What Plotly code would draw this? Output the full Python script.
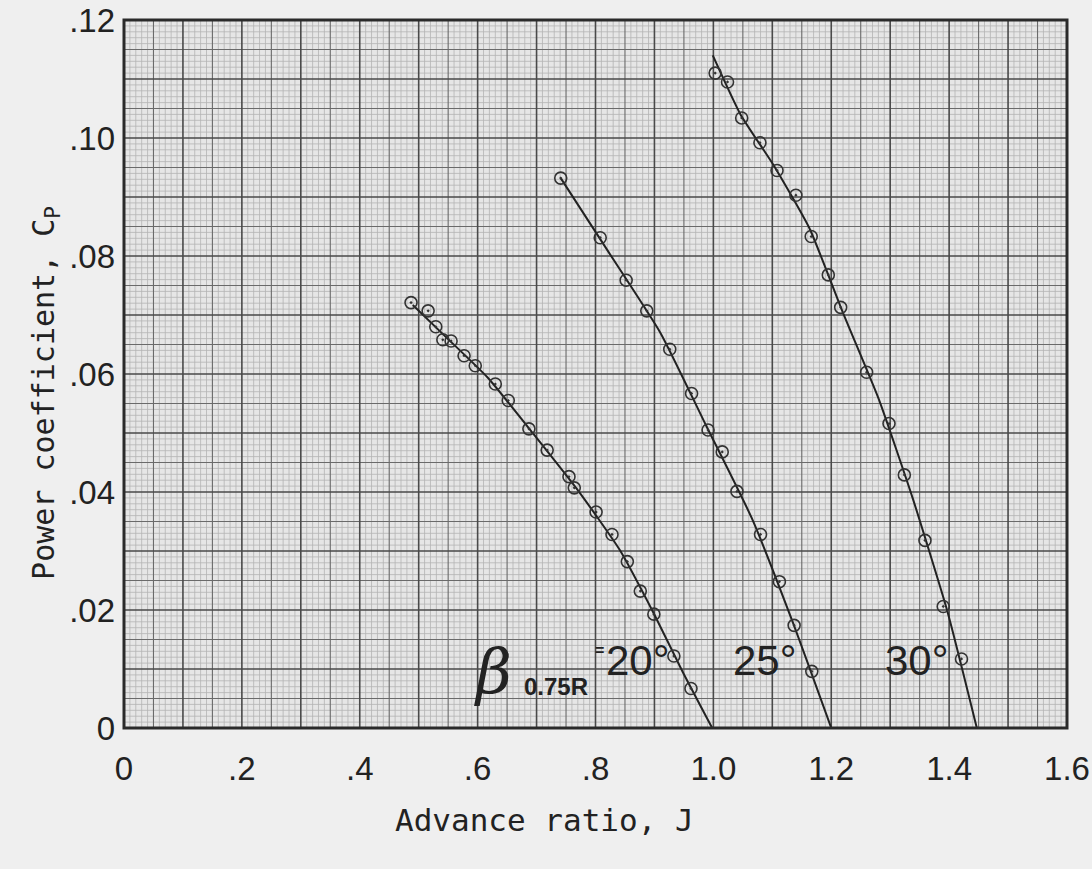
import plotly.graph_objects as go

# ---- data (advance ratio J, power coefficient Cp) ----
# beta_0.75R = 20 deg : test points
J20 = [0.487, 0.516, 0.529, 0.541, 0.555, 0.577, 0.596, 0.630, 0.652, 0.687, 0.718,
       0.755, 0.764, 0.801, 0.828, 0.854, 0.876, 0.899, 0.933, 0.962]
CP20 = [0.0721, 0.0707, 0.0680, 0.0658, 0.0656, 0.0631, 0.0614, 0.0583, 0.0555, 0.0507, 0.0471,
        0.0426, 0.0407, 0.0366, 0.0328, 0.0282, 0.0232, 0.0193, 0.0122, 0.0067]
# faired curve
J20_FAIR = [0.490, 0.549, 0.617, 0.695, 0.773, 0.841, 0.900, 0.948, 0.998]
CP20_FAIR = [0.0717, 0.0660, 0.0594, 0.0498, 0.0399, 0.0302, 0.0192, 0.0095, 0.0]

# beta = 25 deg
J25 = [0.741, 0.808, 0.852, 0.887, 0.926, 0.963, 0.991, 1.015, 1.040, 1.080, 1.112, 1.137, 1.167]
CP25 = [0.0932, 0.0831, 0.0759, 0.0707, 0.0642, 0.0567, 0.0505, 0.0468, 0.0401, 0.0328, 0.0248, 0.0174, 0.0096]
J25_FAIR = [0.741, 0.822, 0.910, 0.987, 1.065, 1.134, 1.200]
CP25_FAIR = [0.0932, 0.0807, 0.0670, 0.0514, 0.0356, 0.0181, 0.0]

# beta = 30 deg
J30 = [1.003, 1.024, 1.048, 1.079, 1.108, 1.140, 1.166, 1.195, 1.216, 1.260, 1.298, 1.324, 1.359, 1.390, 1.421]
CP30 = [0.1110, 0.1095, 0.1034, 0.0992, 0.0945, 0.0903, 0.0833, 0.0768, 0.0713, 0.0603, 0.0516, 0.0429,
        0.0318, 0.0206, 0.0117]
J30_FAIR = [0.999, 1.046, 1.104, 1.163, 1.221, 1.280, 1.338, 1.397, 1.447]
CP30_FAIR = [0.1140, 0.1040, 0.0951, 0.0847, 0.0701, 0.0559, 0.0390, 0.0198, 0.0]

X_TICKS = [0, 0.2, 0.4, 0.6, 0.8, 1.0, 1.2, 1.4, 1.6]
X_TICK_TEXT = ["0", ".2", ".4", ".6", ".8", "1.0", "1.2", "1.4", "1.6"]
Y_TICKS = [0, 0.02, 0.04, 0.06, 0.08, 0.10, 0.12]
Y_TICK_TEXT = ["0", ".02", ".04", ".06", ".08", ".10", ".12"]

INK = "#222222"
FONT = "Liberation Sans"
TITLE_FONT = "DejaVu Sans Mono"

fig = go.Figure()

series = [
    (J20_FAIR, CP20_FAIR, J20, CP20),
    (J25_FAIR, CP25_FAIR, J25, CP25),
    (J30_FAIR, CP30_FAIR, J30, CP30),
]
for jf, cf, jp, cp in series:
    fig.add_trace(go.Scatter(x=jf, y=cf, mode="lines",
                             line=dict(color=INK, width=2, shape="spline", smoothing=0.5),
                             hoverinfo="skip", showlegend=False))
    fig.add_trace(go.Scatter(x=jp, y=cp, mode="markers",
                             marker=dict(symbol="circle-open-dot", size=12, color="#333333",
                                         line=dict(width=1.6, color="#333333")),
                             showlegend=False))

# ---- graph-paper grid (32 x 24 cells, 5 subdivisions) ----
def grid_path(nx_div, ny_div, keep):
    parts = []
    for i in range(1, nx_div):
        if keep(i, nx_div):
            x = i / nx_div
            parts.append(f"M {x:.5f} 0 L {x:.5f} 1")
    for j in range(1, ny_div):
        if keep(j, ny_div):
            y = j / ny_div
            parts.append(f"M 0 {y:.5f} L 1 {y:.5f}")
    return " ".join(parts)

fine = grid_path(160, 120, lambda i, n: i % 5 != 0)
medium = grid_path(32, 24, lambda i, n: i % 2 == 1)
bold = grid_path(32, 24, lambda i, n: i % 2 == 0)

shapes = [
    dict(type="path", path=fine, xref="paper", yref="paper", layer="below",
         line=dict(color="#b4b4b4", width=0.8)),
    dict(type="path", path=medium, xref="paper", yref="paper", layer="below",
         line=dict(color="#6a6a6a", width=1.1)),
    dict(type="path", path=bold, xref="paper", yref="paper", layer="below",
         line=dict(color="#4a4a4a", width=1.6)),
    dict(type="rect", x0=0, x1=1, y0=0, y1=1, xref="paper", yref="paper", layer="above",
         line=dict(color="#2a2a2a", width=3)),
]

annotations = [
    dict(text="Advance ratio, J", xref="paper", yref="paper",
         x=0.4454, y=-0.130, xanchor="center", yanchor="middle", showarrow=False,
         font=dict(family=TITLE_FONT, size=31, color=INK)),
    dict(text="Power coefficient, C<sub>P</sub>", xref="paper", yref="paper",
         x=-0.084, y=0.473, xanchor="center", yanchor="middle", textangle=-90, showarrow=False,
         font=dict(family=TITLE_FONT, size=30, color=INK)),
    dict(text="<i>β</i>", x=0.626, y=0.0095, xref="x", yref="y", showarrow=False,
         font=dict(family="DejaVu Serif", size=62, color=INK)),
    dict(text="<b>0.75R</b>", x=0.733, y=0.0071, xref="x", yref="y", showarrow=False,
         font=dict(family=FONT, size=24, color=INK)),
    dict(text="<b>=</b>", x=0.806, y=0.0132, xref="x", yref="y", showarrow=False,
         font=dict(family=FONT, size=16, color=INK)),
    dict(text="20°", x=0.872, y=0.0115, xref="x", yref="y", showarrow=False,
         font=dict(family=FONT, size=42, color=INK)),
    dict(text="25°", x=1.088, y=0.0115, xref="x", yref="y", showarrow=False,
         font=dict(family=FONT, size=42, color=INK)),
    dict(text="30°", x=1.345, y=0.0115, xref="x", yref="y", showarrow=False,
         font=dict(family=FONT, size=42, color=INK)),
]

fig.update_layout(
    width=1092, height=869,
    margin=dict(l=124, r=25, t=20, b=141, autoexpand=False),
    paper_bgcolor="#efefef",
    plot_bgcolor="#e6e6e6",
    shapes=shapes,
    annotations=annotations,
    showlegend=False,
    xaxis=dict(range=[0, 1.6], tickvals=X_TICKS, ticktext=X_TICK_TEXT,
               showgrid=False, zeroline=False, showline=False, ticks="",
               automargin=False, ticklabelstandoff=18,
               tickfont=dict(family=FONT, size=33, color=INK)),
    yaxis=dict(range=[0, 0.12], tickvals=Y_TICKS, ticktext=Y_TICK_TEXT,
               showgrid=False, zeroline=False, showline=False, ticks="",
               automargin=False, ticklabelstandoff=8,
               tickfont=dict(family=FONT, size=33, color=INK)),
)

fig.write_html(
    "out.html",
    config={"displayModeBar": False},
    post_script="document.body.style.margin='0';document.body.style.background='#efefef';",
)
